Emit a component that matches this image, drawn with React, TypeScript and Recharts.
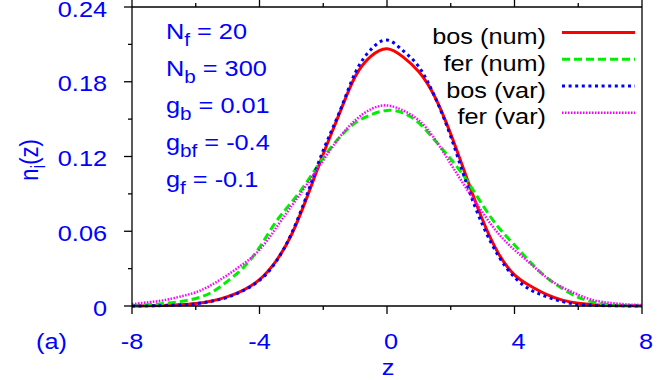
import React from "react";
import { LineChart, Line, XAxis, YAxis, Legend, Customized } from "recharts";

// z grid and density profiles
const zValues = [
  -8, -7.5, -7, -6.5, -6, -5.5, -5, -4.5, -4, -3.5, -3, -2.5, -2, -1.5, -1, -0.5,
  0, 0.5, 1, 1.5, 2, 2.5, 3, 3.5, 4, 4.5, 5, 5.5, 6, 6.5, 7, 7.5, 8,
];
const bosNum = [
  0, 0.0002, 0.0005, 0.001, 0.002, 0.004, 0.0075, 0.0128, 0.0212, 0.0355, 0.057, 0.088, 0.122, 0.154, 0.184, 0.2005,
  0.2065, 0.2, 0.188, 0.168, 0.138, 0.103, 0.069, 0.042, 0.025, 0.016, 0.0093, 0.0047, 0.0022, 0.001, 0.0005, 0.0002, 0,
];
const ferNum = [
  0.0003, 0.001, 0.002, 0.0035, 0.006, 0.011, 0.02, 0.031, 0.047, 0.067, 0.083, 0.1, 0.119, 0.135, 0.147, 0.1535,
  0.157, 0.155, 0.147, 0.133, 0.118, 0.101, 0.081, 0.063, 0.049, 0.035, 0.023, 0.014, 0.007, 0.003, 0.001, 0.0004, 0,
];
const bosVar = [
  0, 0.0001, 0.0004, 0.0009, 0.0018, 0.0038, 0.007, 0.0125, 0.0205, 0.0348, 0.058, 0.09, 0.125, 0.155, 0.187, 0.206,
  0.2135, 0.205, 0.192, 0.168, 0.136, 0.098, 0.065, 0.04, 0.023, 0.013, 0.0075, 0.0035, 0.0012, 0.0005, 0.0002, 0.0001, 0,
];
const ferVar = [
  0.0014, 0.003, 0.0046, 0.0075, 0.011, 0.017, 0.025, 0.034, 0.045, 0.062, 0.08, 0.098, 0.117, 0.135, 0.149, 0.158,
  0.161, 0.157, 0.149, 0.134, 0.114, 0.094, 0.075, 0.058, 0.045, 0.034, 0.023, 0.015, 0.009, 0.0045, 0.0025, 0.0013, 0.0008,
];

const xTicks = [-8, -6, -4, -2, 0, 2, 4, 6, 8];
const xLabels = [-8, -4, 0, 4, 8];
const yTicks = [0, 0.03, 0.06, 0.09, 0.12, 0.15, 0.18, 0.21, 0.24];
const yLabels = [0, 0.06, 0.12, 0.18, 0.24];

const paramSymbols = ["N", "N", "g", "g", "g"];
const paramSubs = ["f", "b", "b", "bf", "f"];
const paramValues = ["20", "300", "0.01", "-0.4", "-0.1"];

const series = [
  { key: "bosNum", name: "bos (num)", color: "#ff0000", dash: undefined, width: 3 },
  { key: "ferNum", name: "fer (num)", color: "#00ee00", dash: "8 4", width: 3 },
  { key: "bosVar", name: "bos (var)", color: "#0000ff", dash: "3 3.6", width: 3 },
  { key: "ferVar", name: "fer (var)", color: "#ff00ff", dash: "1.5 1.5", width: 2.5 },
];

const data = zValues.map((z, i) => ({
  z,
  bosNum: bosNum[i],
  ferNum: ferNum[i],
  bosVar: bosVar[i],
  ferVar: ferVar[i],
}));

const FONT = "'Liberation Sans', Arial, Helvetica, sans-serif";
const BLUE = "#0000ff";
const SX = 1.15; // fonts in the figure look horizontally stretched
const AXIS = { stroke: "#000", strokeWidth: 1.3 };

function BottomTick({ x, y, payload }: any) {
  const v = payload.value;
  const major = xLabels.includes(v);
  return (
    <g>
      <line x1={x} x2={x} y1={y} y2={y + (major ? 8 : 4)} {...AXIS} />
      {major && (
        <text
          transform={`translate(${x + (v >= 0 ? 4 : 0)} ${y + 43}) scale(${SX} 1)`}
          textAnchor="middle"
          fontSize={22}
          fontFamily={FONT}
          fill={BLUE}
        >
          {String(v)}
        </text>
      )}
    </g>
  );
}

function TopTick({ x, y, payload }: any) {
  const major = xLabels.includes(payload.value);
  return <line x1={x} x2={x} y1={y} y2={y - (major ? 8 : 4)} {...AXIS} />;
}

function LeftTick({ x, y, payload }: any) {
  const v = payload.value;
  const major = yLabels.includes(v);
  return (
    <g>
      <line x1={x - (major ? 8 : 4)} x2={x} y1={y} y2={y} {...AXIS} />
      {major && (
        <text
          transform={`translate(${x - 25} ${y + 9.5}) scale(${SX} 1)`}
          textAnchor="end"
          fontSize={22}
          fontFamily={FONT}
          fill={BLUE}
        >
          {String(v)}
        </text>
      )}
    </g>
  );
}

function RightTick({ x, y, payload }: any) {
  const major = yLabels.includes(payload.value);
  return <line x1={x} x2={x + (major ? 8 : 4)} y1={y} y2={y} {...AXIS} />;
}

function Annotations() {
  return (
    <g fontFamily={FONT} fill={BLUE}>
      {paramSymbols.map((s, i) => (
        <text key={i} transform={`translate(166 ${38.5 + i * 37}) scale(${SX} 1)`} fontSize={22}>
          {s}
          <tspan fontSize={18} dy={7}>{paramSubs[i]}</tspan>
          <tspan dy={-7}>{` = ${paramValues[i]}`}</tspan>
        </text>
      ))}
      <text transform={`translate(36 349) scale(${SX} 1)`} fontSize={22}>(a)</text>
      <text transform={`translate(388 375) scale(${SX} 1)`} fontSize={22} textAnchor="middle">z</text>
      <text transform={`translate(38 160) rotate(-90) scale(1 ${SX})`} fontSize={22} textAnchor="middle">
        n<tspan fontSize={17} dy={6}>i</tspan><tspan dy={-6}>(z)</tspan>
      </text>
    </g>
  );
}

function LegendBox() {
  return (
    <svg width={664} height={380} style={{ position: "absolute", left: 0, top: 0 }}>
      {series.map((s, i) => (
        <g key={s.key}>
          <text
            transform={`translate(546 ${44.3 + i * 26.7}) scale(${SX} 1)`}
            textAnchor="end"
            fontSize={22}
            fontFamily={FONT}
            fill="#000"
          >
            {s.name}
          </text>
          <line
            x1={562}
            x2={635}
            y1={32.6 + i * 26.7}
            y2={32.6 + i * 26.7}
            stroke={s.color}
            strokeWidth={s.width}
            strokeDasharray={s.dash}
          />
        </g>
      ))}
    </svg>
  );
}

export default function App() {
  return (
    <div style={{ position: "absolute", left: 0, top: 0, width: 664, height: 380, background: "#fff" }}>
      <LineChart width={664} height={380} data={data} margin={{ top: 2, right: 12, bottom: 34, left: 72 }}>
        <XAxis
          dataKey="z"
          type="number"
          domain={[-8, 8]}
          ticks={xTicks}
          interval={0}
          height={40}
          tickSize={0}
          tickMargin={0}
          tickLine={false}
          tick={<BottomTick />}
          axisLine={AXIS}
        />
        <XAxis
          xAxisId="top"
          orientation="top"
          dataKey="z"
          type="number"
          domain={[-8, 8]}
          ticks={xTicks}
          interval={0}
          height={5}
          tickSize={0}
          tickMargin={0}
          tickLine={false}
          tick={<TopTick />}
          axisLine={AXIS}
        />
        <YAxis
          type="number"
          domain={[0, 0.24]}
          ticks={yTicks}
          interval={0}
          width={60}
          tickSize={0}
          tickMargin={0}
          tickLine={false}
          tick={<LeftTick />}
          axisLine={AXIS}
        />
        <YAxis
          yAxisId="right"
          orientation="right"
          type="number"
          domain={[0, 0.24]}
          ticks={yTicks}
          interval={0}
          width={10}
          tickSize={0}
          tickMargin={0}
          tickLine={false}
          tick={<RightTick />}
          axisLine={AXIS}
        />
        {series.map((s) => (
          <Line
            key={s.key}
            dataKey={s.key}
            name={s.name}
            type="natural"
            stroke={s.color}
            strokeWidth={s.width}
            strokeDasharray={s.dash}
            dot={false}
            activeDot={false}
            isAnimationActive={false}
          />
        ))}
        <Customized component={<Annotations />} />
        <Legend
          layout="vertical"
          align="center"
          verticalAlign="middle"
          content={<LegendBox />}
          wrapperStyle={{ position: "absolute", left: 0, top: 0, width: 664, height: 380, pointerEvents: "none" }}
        />
      </LineChart>
    </div>
  );
}
